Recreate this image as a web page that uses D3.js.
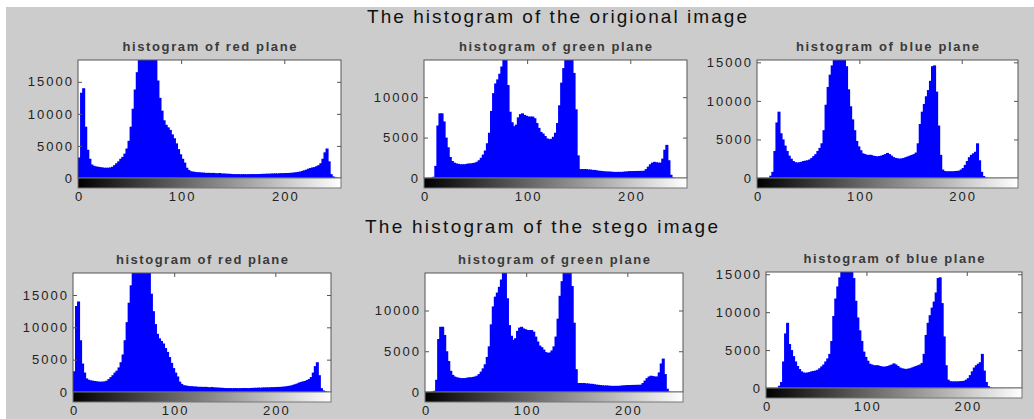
<!DOCTYPE html>
<html lang="en">
  <head>
    <meta charset="utf-8" />
    <title>Histograms of the original and stego image</title>
    <script src="https://d3js.org/d3.v7.min.js"></script>
    <style>
      body { margin: 0; background: #fff; }
      svg { display: block; }
      .tick text { font-family: "Liberation Sans", Arial, sans-serif; font-size: 13px; fill: #222; letter-spacing: 2px; }
      .tick line { stroke: #555; }
    </style>
  </head>
  <body>
    <svg id="chart"></svg>
  </body>
  <script>
    // Counts, one value per pair of grey levels (0-1, 2-3, ... 254-255)
    const binStarts = d3.range(0, 256, 2);

    const redCounts = [
      3200, 13300, 14000, 8000, 4400, 3000, 2100, 1900, 1800, 1750,
      1700, 1650, 1600, 1600, 1600, 1650, 1750, 2000, 2300, 2600,
      3000, 3300, 3800, 4600, 5800, 8000, 10800, 13800, 16500, 19500,
      21000, 22000, 23000, 23500, 23000, 22000, 21000, 19000, 15200, 12500,
      10500, 9000, 8300, 7900, 7500, 6800, 6200, 5400, 4500, 3700,
      3000, 2400, 1600, 1250, 1050, 1000, 950, 900, 900, 850,
      850, 800, 800, 800, 780, 800, 750, 720, 780, 700,
      700, 680, 660, 650, 620, 600, 600, 600, 580, 600,
      600, 580, 600, 600, 620, 600, 600, 620, 630, 650,
      650, 680, 660, 700, 700, 720, 700, 740, 750, 750,
      780, 780, 800, 820, 850, 900, 950, 1000, 1100, 1200,
      1300, 1450, 1550, 1650, 1700, 1850, 2000, 2300, 3000, 4000,
      4600, 2600, 600, 250, 100, 30, 0, 0
    ];

    const greenCounts = [
      0, 0, 0, 50, 150, 1500, 6500, 8000, 8000, 7000,
      5000, 3800, 2600, 2100, 1900, 1800, 1750, 1700, 1700, 1700,
      1750, 1800, 1800, 1850, 1900, 2000, 2200, 2500, 2900, 3400,
      4300, 5600, 8300, 10500, 11700, 12200, 12900, 13800, 15200, 14800,
      11500, 8200, 6900, 6400, 6600, 7500, 7900, 8000, 7800, 7700,
      7600, 7600, 7600, 7400, 6800, 6200, 5700, 5500, 5200, 4900,
      4800, 4850, 5100, 5600, 6800, 9000, 11800, 13600, 15000, 15400,
      15300, 15000, 13000, 8500, 2800, 1100, 1100, 1100, 1100, 1050,
      1050, 1000, 1000, 950, 900, 880, 850, 820, 800, 800,
      780, 760, 750, 750, 760, 750, 780, 800, 820, 850,
      850, 860, 870, 870, 880, 880, 900, 1100, 1400, 1700,
      1900, 2000, 1950, 1900, 1900, 2400, 3500, 4100, 2200, 400,
      50, 0, 0, 0, 0, 0, 0, 0
    ];

    const blueCounts = [
      0, 0, 0, 0, 0, 0, 300, 800, 3500, 7200,
      8600, 5800, 5000, 4200, 3500, 2900, 2500, 2200, 2050, 2000,
      2050, 2100, 2200, 2250, 2300, 2400, 2600, 2850, 3100, 3500,
      3900, 4500, 6200, 9500, 11800, 13400, 14600, 16000, 17000, 17500,
      17500, 17000, 16200, 14500, 11500, 9300, 7600, 6200, 4800, 4100,
      3600, 3200, 3100, 3000, 3000, 3000, 2900, 2850, 2800, 2850,
      2900, 3000, 3100, 3250, 3100, 2900, 2700, 2600, 2550, 2500,
      2550, 2600, 2700, 2800, 2900, 3000, 3100, 3300, 4500, 7000,
      8600, 9600, 10600, 11400, 12600, 14500, 14600, 11200, 6800, 3000,
      1100, 900, 870, 870, 870, 870, 900, 920, 950, 1100,
      1300, 1700, 2200, 2700, 3000, 3200, 3400, 4500, 2300, 800,
      250, 50, 0, 0, 0, 0, 0, 0, 0, 0,
      0, 0, 0, 0, 0, 0, 0, 0
    ];

    // Upper y limits of the axes and the tick labels
    const yMaxRed = 18400;
    const yMaxGreen = 14600;
    const yMaxBlue = 15300;
    const yTicksRed = [0, 5000, 10000, 15000];
    const yTicksGreen = [0, 5000, 10000];
    const yTicksBlue = [0, 5000, 10000, 15000];
    const xTicks = [0, 100, 200];

    const figureTitles = ['The histogram of the origional image', 'The histogram of the stego image'];
    const planeTitles = ['histogram of red plane', 'histogram of green plane', 'histogram of blue plane'];

    // The stego histograms cannot be told apart from the originals, so both rows use the same counts
    const channels = [
      { counts: redCounts, yMax: yMaxRed, yTicks: yTicksRed },
      { counts: greenCounts, yMax: yMaxGreen, yTicks: yTicksGreen },
      { counts: blueCounts, yMax: yMaxBlue, yTicks: yTicksBlue }
    ];

    // Axes boxes in pixels (left, top, width, height, title width)
    const boxes = [
      [{ l: 78, t: 60, w: 263, h: 118, tw: 174 }, { l: 424, t: 60, w: 263, h: 118, tw: 193 }, { l: 757, t: 60, w: 261, h: 118, tw: 183 }],
      [{ l: 73, t: 273, w: 258, h: 119, tw: 172 }, { l: 425, t: 273, w: 258, h: 119, tw: 192 }, { l: 766, t: 272, w: 256, h: 116, tw: 181 }]
    ];
    const barH = 10;

    const W = 1034, H = 419;
    const svg = d3.select('#chart').attr('width', W).attr('height', H);

    svg.append('rect').attr('width', W).attr('height', H).attr('fill', '#fff');
    svg.append('rect').attr('x', 6).attr('y', 7).attr('width', W - 6).attr('height', H - 7).attr('fill', '#cccccc');

    const defs = svg.append('defs');
    const grad = defs.append('linearGradient').attr('id', 'grey');
    grad.append('stop').attr('offset', '0%').attr('stop-color', '#000');
    grad.append('stop').attr('offset', '100%').attr('stop-color', '#fff');

    // Figure titles
    const titlePos = [{ x: 367, y: 23, len: 380 }, { x: 365, y: 233, len: 353 }];
    figureTitles.forEach((t, i) => {
      svg.append('text')
        .attr('x', titlePos[i].x).attr('y', titlePos[i].y)
        .attr('textLength', titlePos[i].len).attr('lengthAdjust', 'spacing')
        .style('font-family', '"Liberation Sans", Arial, sans-serif')
        .style('font-size', '19px').style('fill', '#111')
        .text(t);
    });

    boxes.forEach((row, r) => {
      row.forEach((b, c) => {
        const ch = channels[c];
        const g = svg.append('g').attr('transform', `translate(${b.l},${b.t})`);

        const x = d3.scaleLinear().domain([0, 255]).range([0, b.w]);
        const y = d3.scaleLinear().domain([0, ch.yMax]).range([b.h, 0]);

        g.append('rect').attr('width', b.w).attr('height', b.h).attr('fill', '#fff');

        const clipId = `clip-${r}-${c}`;
        defs.append('clipPath').attr('id', clipId)
          .append('rect').attr('width', b.w).attr('height', b.h);

        // Histogram bars, widened a little so neighbours touch
        g.append('g').attr('clip-path', `url(#${clipId})`)
          .selectAll('rect')
          .data(binStarts)
          .join('rect')
          .attr('x', (d) => x(d))
          .attr('width', (d) => x(d + 2) - x(d) + 1)
          .attr('y', (d, i) => y(ch.counts[i]))
          .attr('height', (d, i) => b.h - y(ch.counts[i]))
          .attr('fill', '#0000ff');

        // Ticks pointing inward, labels on the left
        g.append('g')
          .call(d3.axisLeft(y).tickValues(ch.yTicks).tickSize(-4).tickPadding(4).tickFormat(d3.format('d')))
          .call((a) => a.select('.domain').remove());
        g.append('g').attr('transform', `translate(${b.w},0)`)
          .call(d3.axisRight(y).tickValues(ch.yTicks).tickSize(-4).tickFormat(''))
          .call((a) => a.select('.domain').remove());
        g.append('g')
          .call(d3.axisTop(x).tickValues([100, 200]).tickSize(-4).tickFormat(''))
          .call((a) => a.select('.domain').remove());

        g.append('rect').attr('width', b.w).attr('height', b.h)
          .attr('fill', 'none').attr('stroke', '#555');

        // Grey level bar under the axes
        const bar = g.append('g').attr('transform', `translate(0,${b.h})`);
        bar.append('rect').attr('width', b.w).attr('height', barH)
          .attr('fill', 'url(#grey)').attr('stroke', '#777');
        bar.append('g').attr('transform', `translate(0,${barH})`)
          .call(d3.axisBottom(x).tickValues(xTicks).tickSize(0).tickPadding(4).tickFormat(d3.format('d')))
          .call((a) => a.select('.domain').remove())
          .call((a) => a.selectAll('text').attr('dx', '1px'));

        g.append('text')
          .attr('x', b.w / 2).attr('y', -9)
          .attr('text-anchor', 'middle')
          .attr('textLength', b.tw).attr('lengthAdjust', 'spacing')
          .style('font-family', '"Liberation Sans", Arial, sans-serif')
          .style('font-size', '13px').style('font-weight', 'bold').style('fill', '#3a3a3a')
          .text(planeTitles[c]);
      });
    });
  </script>
</html>
